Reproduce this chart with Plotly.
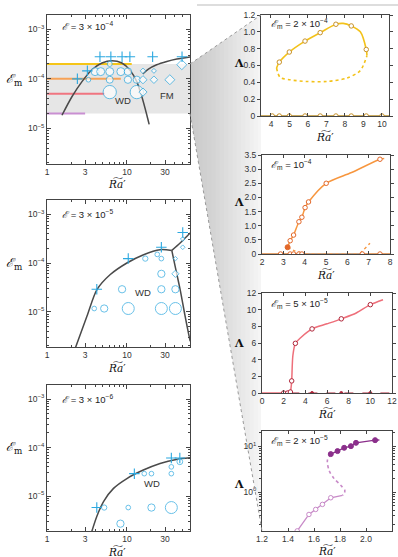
import numpy as np
import plotly.graph_objects as go

W, H = 398, 557

# ================= DATA =================
# ---- Left column: regime diagrams, x = Ra', y = E_m ----
# Panel L1 (E = 3e-4)
l1_band = [2e-5, 2e-4]
l1_level_y = [2e-4, 1e-4, 5e-5, 2e-5]
l1_level_xend = [11.5, 8.4, 5.3, 3.0]
l1_wd_x = [1.54, 2.05, 2.74, 3.65, 4.87, 6.49, 8.66, 11.0, 13.3, 15.4, 17.8, 19.0]
l1_wd_y = [1.84e-5, 4.35e-5, 8.8e-5, 1.53e-4, 2.09e-4, 2.33e-4, 2.09e-4, 1.48e-4, 8.8e-5, 4.35e-5, 1.84e-5, 1.2e-5]
l1_fm_x = [15.8, 18.6, 23.6, 31.6, 42.2, 62.0]
l1_fm_y = [1.26e-4, 1.58e-4, 1.93e-4, 2.25e-4, 2.52e-4, 2.78e-4]
l1_cross_x = [2.4, 3.2, 4.6, 6.3, 8.7, 10.9, 21.0, 49.0]
l1_cross_y = [1.0e-4, 1.45e-4, 2.8e-4, 2.8e-4, 2.8e-4, 2.8e-4, 2.8e-4, 2.8e-4]
l1_circ_x = [4.0, 4.7, 6.1, 8.4, 10.3, 6.1, 3.3, 6.1, 10.3, 13.3, 6.1, 13.3]
l1_circ_y = [1.4e-4, 1.4e-4, 1.4e-4, 1.4e-4, 1.4e-4, 2.0e-4, 9.6e-5, 9.6e-5, 9.6e-5, 9.6e-5, 5.4e-5, 5.4e-5]
l1_circ_s = [8, 8, 8, 8, 7.5, 5, 4.7, 7, 7.3, 7.3, 13.3, 13.3]
l1_dia_x = [15.9, 15.9, 15.9, 21.8, 21.8, 34.5, 48.7]
l1_dia_y = [1.45e-4, 9.6e-5, 5.4e-5, 1.45e-4, 9.6e-5, 9.6e-5, 1.93e-4]
l1_dia_s = [4.3, 6.3, 6.3, 3.8, 5.8, 7.7, 7.7]

# Panel L2 (E = 3e-5)
l2_wd_x = [2.2, 3.16, 4.22, 6.2, 10.0, 16.2, 26.0, 36.5]
l2_wd_y = [1.6e-6, 8.1e-6, 2.85e-5, 5.8e-5, 1.0e-4, 1.48e-4, 1.87e-4, 1.81e-4]
l2_up_x = [36.5, 46.4, 58.9, 64.0]
l2_up_y = [1.81e-4, 2.56e-4, 3.8e-4, 4.3e-4]
l2_dn_x = [36.5, 40.2, 46.4, 53.6, 58.9, 62.0]
l2_dn_y = [1.81e-4, 8.5e-5, 2.85e-5, 8.1e-6, 3.7e-6, 2.5e-6]
l2_cross_x = [4.2, 10.4, 27.0, 50.0]
l2_cross_y = [2.9e-5, 1.23e-4, 2.1e-4, 4.2e-4]
l2_circ_x = [3.9, 5.2, 10.4, 27.0, 40.5, 8.7, 27.0, 40.5, 27.0, 17.0, 24.0, 27.0]
l2_circ_y = [1.17e-5, 1.17e-5, 1.17e-5, 1.17e-5, 1.17e-5, 2.9e-5, 2.9e-5, 2.9e-5, 6.0e-5, 1.23e-4, 1.5e-4, 1.23e-4]
l2_circ_s = [4.7, 7.3, 12, 12, 12, 7.3, 7.3, 7.3, 7.3, 5.3, 4.7, 4.7]
l2_dia_x = [40.5, 40.5, 50.0, 50.0]
l2_dia_y = [1.23e-4, 6.0e-5, 2.1e-4, 3.1e-4]
l2_dia_s = [3.4, 5.6, 3.6, 3.6]

# Panel L3 (E = 3e-6)
l3_wd_x = [3.5, 3.65, 4.2, 5.1, 6.8, 10.0, 15.8, 26.0, 41.5, 62.0]
l3_wd_y = [1.5e-6, 1.9e-6, 3.8e-6, 7.7e-6, 1.44e-5, 2.3e-5, 3.4e-5, 4.7e-5, 5.7e-5, 6.15e-5]
l3_cross_x = [4.2, 12.4, 36.0, 46.0]
l3_cross_y = [5.8e-6, 2.9e-5, 6.1e-5, 6.1e-5]
l3_circ_x = [5.2, 10.4, 20.3, 36.0, 8.3, 16.5, 20.3, 36.0, 36.0, 46.0]
l3_circ_y = [5.8e-6, 5.8e-6, 5.8e-6, 5.8e-6, 2.7e-6, 2.9e-5, 2.9e-5, 2.9e-5, 4.0e-5, 5.1e-5]
l3_circ_s = [5.3, 4.7, 7.3, 12, 7.3, 4.7, 4.7, 4.7, 4.7, 5.8]

# ---- Right column: Lambda vs Ra' ----
# R1 (E_m = 2e-4)
r1_curve_x = [4.30, 4.45, 4.99, 5.84, 6.66, 7.51, 7.9, 8.34, 8.83, 9.15, 9.19]
r1_curve_y = [0.57, 0.64, 0.76, 0.89, 0.99, 1.09, 1.10, 1.07, 1.00, 0.79, 0.72]
r1_unst_x = [4.30, 4.49, 5.03, 5.93, 7.0, 8.1, 8.83, 9.19]
r1_unst_y = [0.57, 0.46, 0.43, 0.41, 0.41, 0.45, 0.54, 0.72]
r1_pts_x = [4.45, 4.99, 5.84, 6.66, 7.51, 8.34, 9.15]
r1_pts_y = [0.64, 0.76, 0.89, 0.99, 1.09, 1.07, 0.79]
r1_zero_x = [4.07, 4.45, 4.99, 5.84, 6.66, 7.51, 8.34, 9.15, 10.0]

# R2 (E_m = 1e-4)
r2_curve_x = [3.2, 3.32, 3.48, 3.73, 3.87, 4.02, 4.18, 5.01, 6.2, 7.53, 7.73]
r2_curve_y = [0.24, 0.47, 0.67, 1.14, 1.30, 1.64, 1.84, 2.50, 2.88, 3.35, 3.38]
r2_pts_x = [3.32, 3.48, 3.73, 3.87, 4.02, 4.18, 5.01, 7.53]
r2_pts_y = [0.47, 0.67, 1.14, 1.30, 1.64, 1.84, 2.50, 3.35]
r2_fill_x = [3.2]
r2_fill_y = [0.24]
r2_unst1_x = [3.2, 3.5, 3.9]
r2_unst1_y = [0.24, 0.12, 0.03]
r2_unst2_x = [6.6, 7.06]
r2_unst2_y = [0.02, 0.38]
r2_zero_x = [2.87, 3.32, 3.48, 3.73, 3.87, 6.7, 7.53]

# R3 (E_m = 5e-5)
r3_curve_x = [2.62, 2.68, 2.74, 2.85, 3.08, 3.54, 4.62, 6.0, 7.32, 8.7, 10.0, 11.17]
r3_curve_y = [0.12, 0.6, 1.45, 4.5, 5.96, 6.6, 7.69, 8.3, 8.9, 9.6, 10.6, 11.2]
r3_pts_x = [2.0, 2.37, 2.62, 2.74, 3.08, 4.62, 7.32, 10.0]
r3_pts_y = [0.0, 0.0, 0.12, 1.45, 5.96, 7.69, 8.9, 10.6]
r3_zero_dots_x = [2.62, 4.62, 7.32, 10.0]

# R4 (E_m = 2e-5)
r4_fill_x = [1.729, 1.781, 1.832, 1.884, 1.923, 2.07]
r4_fill_y = [6.7, 7.8, 9.2, 10.0, 11.8, 13.5]
r4_upper_x = [1.729, 1.781, 1.832, 1.884, 1.923, 2.07, 2.103]
r4_upper_y = [6.7, 7.8, 9.2, 10.0, 11.8, 13.5, 13.6]
r4_unst_x = [1.729, 1.703, 1.716, 1.755, 1.806, 1.837, 1.832, 1.819]
r4_unst_y = [6.7, 4.9, 2.95, 1.95, 1.40, 1.09, 0.92, 0.845]
r4_open_x = [1.471, 1.561, 1.613, 1.665, 1.729]
r4_open_y = [0.142, 0.324, 0.417, 0.537, 0.75]
r4_lower_x = [1.44, 1.471, 1.561, 1.613, 1.665, 1.729, 1.819]
r4_lower_y = [0.12, 0.142, 0.324, 0.417, 0.537, 0.75, 0.845]

# ================= STYLE =================
CYAN = "#2BA8E0"
CURVE = "#4a4a4a"
BAND = "#e6e6e6"
LEVEL_COLORS = ["#F5C518", "#F7A256", "#F07580", "#C98FD2"]
YEL, YEL_D = "#F3C21A", "#C8922A"
ORG, ORG_D = "#F7963E", "#E2682A"
RED, RED_D = "#EE6F7A", "#B0263A"
PUR, PUR_L = "#8B2F8B", "#C88AC8"
AX = "#444444"
TICKFONT = dict(family="Liberation Sans, Arial, sans-serif", size=8.5, color="#333")

fig = go.Figure()


def px(x):
    return x / W


def py(y):
    return 1 - y / H


def add(tr, k):
    tr.update(xaxis="x" if k == 1 else f"x{k}", yaxis="y" if k == 1 else f"y{k}",
              showlegend=False, hoverinfo="skip")
    fig.add_trace(tr)


def line(k, x, y, color, width=1.5, dash=None, shape="spline"):
    add(go.Scatter(x=x, y=y, mode="lines",
                   line=dict(color=color, width=width, dash=dash, shape=shape,
                             smoothing=0.8)), k)


def markers(k, x, y, symbol, size, color, fill=None, lw=1.0):
    add(go.Scatter(x=x, y=y, mode="markers",
                   marker=dict(symbol=symbol, size=size,
                               color=fill if fill else "rgba(0,0,0,0)",
                               line=dict(color=color, width=lw))), k)


# ---------- Left panels ----------
# L1
add(go.Scatter(x=[0.5, 100, 100, 0.5, 0.5], y=[l1_band[0], l1_band[0], l1_band[1], l1_band[1], l1_band[0]],
               mode="lines", fill="toself", fillcolor=BAND, line=dict(width=0)), 1)
for yv, xe, c in zip(l1_level_y, l1_level_xend, LEVEL_COLORS):
    line(1, [0.9, xe], [yv, yv], c, width=2, shape="linear")
line(1, l1_wd_x, l1_wd_y, CURVE)
line(1, l1_fm_x, l1_fm_y, CURVE)
markers(1, l1_circ_x, l1_circ_y, "circle", l1_circ_s, CYAN, fill="white")
markers(1, l1_dia_x, l1_dia_y, "diamond", l1_dia_s, CYAN, fill="white")
markers(1, l1_cross_x, l1_cross_y, "cross-thin", 7.5, CYAN, lw=1.1)

# L2
line(2, l2_wd_x, l2_wd_y, CURVE)
line(2, l2_up_x, l2_up_y, CURVE)
line(2, l2_dn_x, l2_dn_y, CURVE)
markers(2, l2_circ_x, l2_circ_y, "circle", l2_circ_s, CYAN, fill="white")
markers(2, l2_dia_x, l2_dia_y, "diamond", l2_dia_s, CYAN, fill="white")
markers(2, l2_cross_x, l2_cross_y, "cross-thin", 7.5, CYAN, lw=1.1)

# L3
line(3, l3_wd_x, l3_wd_y, CURVE)
markers(3, l3_circ_x, l3_circ_y, "circle", l3_circ_s, CYAN, fill="white")
markers(3, l3_cross_x, l3_cross_y, "cross-thin", 7.5, CYAN, lw=1.1)

# ---------- Right panels ----------
# R1
line(4, [3.4, 10.5], [0, 0], "#B8902E", width=1.5, shape="linear")
line(4, r1_unst_x, r1_unst_y, YEL, width=1.6, dash="dot")
line(4, r1_curve_x, r1_curve_y, YEL, width=1.6)
markers(4, r1_pts_x, r1_pts_y, "circle", 4.5, YEL_D, fill="white")
markers(4, r1_zero_x, [0] * len(r1_zero_x), "circle", 4.5, YEL_D, fill="white")

# R2
line(5, [2, 8], [0, 0], "#D9823B", width=1.5, shape="linear")
line(5, [3.9, 6.6], [0, 0], "#aaaaaa", width=1.2, dash="dot", shape="linear")
line(5, r2_unst1_x, r2_unst1_y, ORG, width=1.4, dash="dot")
line(5, r2_unst2_x, r2_unst2_y, ORG, width=1.4, dash="dot", shape="linear")
line(5, r2_curve_x, r2_curve_y, ORG, width=1.5)
markers(5, r2_pts_x, r2_pts_y, "circle", 4.5, ORG_D, fill="white")
markers(5, r2_zero_x, [0] * len(r2_zero_x), "circle", 4.5, ORG_D, fill="white")
markers(5, r2_fill_x, r2_fill_y, "circle", 5, ORG_D, fill=ORG_D)

# R3
line(6, [0, 2.62], [0, 0], RED, width=1.5, shape="linear")
line(6, [2.62, 12], [0, 0], RED_D, width=1.2, dash="dash", shape="linear")
line(6, r3_curve_x, r3_curve_y, RED, width=1.5)
markers(6, r3_zero_dots_x, [0] * len(r3_zero_dots_x), "circle", 3, RED_D, fill=RED_D)
markers(6, r3_pts_x, r3_pts_y, "circle", 4.5, RED_D, fill="white")

# R4
line(7, r4_unst_x, r4_unst_y, PUR_L, width=1.6, dash="dot")
line(7, r4_lower_x, r4_lower_y, PUR_L, width=1.3, shape="linear")
line(7, r4_upper_x, r4_upper_y, PUR, width=1.3, shape="linear")
markers(7, r4_open_x, r4_open_y, "circle", 4.5, PUR_L, fill="white")
markers(7, r4_fill_x, r4_fill_y, "circle", 5, PUR, fill=PUR)

# ================= AXES =================
layout = dict(width=W, height=H, margin=dict(l=0, r=0, t=0, b=0, autoexpand=False),
              autosize=False, paper_bgcolor="white", plot_bgcolor="rgba(0,0,0,0)")

left_boxes = {1: (47, 190, 15, 164), 2: (47, 190, 200, 347), 3: (47, 190, 385, 531)}
right_boxes = {4: (261, 389, 15, 116), 5: (262, 390, 155, 254),
               6: (262, 392, 293, 393), 7: (262, 392, 431, 531)}

xminor = [2, 3, 4, 5, 6, 7, 8, 9, 20, 30, 40, 50, 60]
yminor = [m * 10.0 ** e for e in (-6, -5, -4, -3) for m in range(2, 10)]


def ax_name(prefix, k):
    return prefix + "axis" + ("" if k == 1 else str(k))


for k, (x0, x1, y0, y1) in left_boxes.items():
    layout[ax_name("x", k)] = dict(
        domain=[px(x0), px(x1)], anchor="y" if k == 1 else f"y{k}", type="log",
        range=[0, 1.79], tickvals=[1, 3, 10, 30], ticktext=["1", "3", "10", "30"],
        ticks="inside", ticklen=4, tickcolor=AX, showline=True, linecolor=AX, linewidth=1,
        mirror="ticks", showgrid=False, zeroline=False, tickfont=TICKFONT, automargin=False,
        minor=dict(tickvals=xminor, ticks="inside", ticklen=2, tickcolor=AX))
    layout[ax_name("y", k)] = dict(
        domain=[py(y1), py(y0)], anchor="x" if k == 1 else f"x{k}", type="log",
        range=[-5.72, -2.71], tickvals=[1e-5, 1e-4, 1e-3],
        ticktext=["10<sup>−5</sup>", "10<sup>−4</sup>", "10<sup>−3</sup>"],
        ticks="inside", ticklen=4, tickcolor=AX, showline=True, linecolor=AX, linewidth=1,
        mirror="ticks", showgrid=False, zeroline=False, tickfont=TICKFONT, automargin=False,
        minor=dict(tickvals=yminor, ticks="inside", ticklen=2, tickcolor=AX))

right_specs = {
    4: dict(xr=[3.46, 10.38], xt=[4, 5, 6, 7, 8, 9, 10], xtt=None,
            yr=[0, 1.2], yt=[0, 0.2, 0.4, 0.6, 0.8, 1.0, 1.2],
            ytt=["0", "0.2", "0.4", "0.6", "0.8", "1.0", "1.2"], ylog=False),
    5: dict(xr=[2, 8], xt=[2, 3, 4, 5, 6, 7, 8], xtt=None,
            yr=[0, 3.5], yt=[0, 0.5, 1, 1.5, 2, 2.5, 3, 3.5],
            ytt=["0", "0.5", "1.0", "1.5", "2.0", "2.5", "3.0", "3.5"], ylog=False),
    6: dict(xr=[0, 12], xt=[0, 2, 4, 6, 8, 10, 12], xtt=None,
            yr=[0, 12], yt=[0, 2, 4, 6, 8, 10, 12], ytt=None, ylog=False),
    7: dict(xr=[1.2, 2.2], xt=[1.2, 1.4, 1.6, 1.8, 2.0, 2.2],
            xtt=["1.2", "1.4", "1.6", "1.8", "2.0", "2.2"],
            yr=[-0.85, 1.33], yt=[1, 10], ytt=["10<sup>0</sup>", "10<sup>1</sup>"], ylog=True),
}

for k, (x0, x1, y0, y1) in right_boxes.items():
    s = right_specs[k]
    xa = dict(domain=[px(x0), px(x1)], anchor=f"y{k}", range=s["xr"], tickvals=s["xt"],
              ticks="inside", ticklen=3, tickcolor=AX, showline=True, linecolor=AX,
              linewidth=1, mirror="ticks", showgrid=False, zeroline=False, tickfont=TICKFONT,
              automargin=False)
    if s["xtt"]:
        xa["ticktext"] = s["xtt"]
    ya = dict(domain=[py(y1), py(y0)], anchor=f"x{k}", range=s["yr"], tickvals=s["yt"],
              ticks="outside", ticklen=3, tickcolor=AX, showline=True, linecolor=AX,
              linewidth=1, mirror="ticks", showgrid=False, zeroline=False, tickfont=TICKFONT,
              automargin=False)
    if s["ytt"]:
        ya["ticktext"] = s["ytt"]
    if s["ylog"]:
        ya["type"] = "log"
        ya["minor"] = dict(tickvals=[m * 10.0 ** e for e in (-1, 0, 1) for m in range(2, 10)],
                           ticks="outside", ticklen=2, tickcolor=AX)
    layout[ax_name("x", k)] = xa
    layout[ax_name("y", k)] = ya

fig.update_layout(**layout)

# ================= DECORATION (wedge, lines) =================
shapes = []
ux0, uy0, ux1, uy1 = 190, 64, 261, 15
lx0, ly0, lx1, ly1 = 190, 113.5, 262, 531


def yu(x):
    return uy0 + (uy1 - uy0) * (x - ux0) / (ux1 - ux0)


def yl(x):
    return ly0 + (ly1 - ly0) * (x - lx0) / (lx1 - lx0)


def wedge_path(xa_, xb_):
    return (f"M {px(xa_)},{py(yu(xa_))} L {px(xb_)},{py(yu(xb_))} "
            f"L {px(xb_)},{py(yl(xb_))} L {px(xa_)},{py(yl(xa_))} Z")


# base wash over whole wedge, then stacked translucent layers (denser to the left)
shapes.append(dict(type="path", xref="paper", yref="paper", path=wedge_path(190, 261),
                   fillcolor="rgba(140,140,140,0.09)", line=dict(width=0), layer="below"))
N = 16
for i in range(N):
    xb_ = 190 + (258 - 190) * (i + 1) / N
    shapes.append(dict(type="path", xref="paper", yref="paper", path=wedge_path(190, xb_),
                       fillcolor="rgba(140,140,140,0.022)", line=dict(width=0),
                       layer="below"))
shapes.append(dict(type="line", xref="paper", yref="paper", x0=px(ux0), y0=py(uy0),
                   x1=px(ux1), y1=py(uy1), line=dict(color="#999", width=1, dash="dot")))
shapes.append(dict(type="line", xref="paper", yref="paper", x0=px(lx0), y0=py(ly0),
                   x1=px(lx1), y1=py(ly1), line=dict(color="#999", width=1, dash="dot")))
shapes.append(dict(type="line", xref="paper", yref="paper", x0=px(197), y0=py(5),
                   x1=px(398), y1=py(5), line=dict(color="#bbbbbb", width=1)))
fig.update_layout(shapes=shapes)

# ================= TEXT =================
ann = []
SERIF = "DejaVu Serif, Liberation Serif, serif"
SANS = "Liberation Sans, Arial, sans-serif"
RA = "<i>R\u0360a</i>\u2032"


def txt(x, y, t, size=9, family=SANS, xanchor="left", color="#222"):
    ann.append(dict(x=px(x), y=py(y), xref="paper", yref="paper", text=t, showarrow=False,
                    xanchor=xanchor, yanchor="middle", font=dict(size=size, family=family,
                                                                   color=color)))


# panel labels
txt(60, 26, "<i>ℰ</i> = 3 × 10<sup>−4</sup>", 9.5)
txt(60, 214, "<i>ℰ</i> = 3 × 10<sup>−5</sup>", 9.5)
txt(60, 399, "<i>ℰ</i> = 3 × 10<sup>−6</sup>", 9.5)
txt(269, 24, "<i>ℰ</i><sub>m</sub> = 2 × 10<sup>−4</sup>", 9.5)
txt(269, 164, "<i>ℰ</i><sub>m</sub> = 10<sup>−4</sup>", 9.5)
txt(269, 303, "<i>ℰ</i><sub>m</sub> = 5 × 10<sup>−5</sup>", 9.5)
txt(269, 440, "<i>ℰ</i><sub>m</sub> = 2 × 10<sup>−5</sup>", 9.5)

# axis titles
for yy in (80, 263, 447):
    txt(14, yy, "<i>ℰ</i><sub>m</sub>", 12.5, SERIF, "center", "#111")
for yy in (183, 367, 551):
    txt(117, yy, RA, 10.5, SERIF, "center", "#111")
for yy in (63, 203, 343, 484):
    txt(239, yy, "<b>Λ</b>", 11, SERIF, "center", "#111")
for (x0, x1, y0, y1) in right_boxes.values():
    txt((x0 + x1) / 2, min(y1 + 20, 550), RA, 10.5, SERIF, "center", "#111")

# regime labels (data coords)
ann.append(dict(x=np.log10(8.9), y=np.log10(3.7e-5), xref="x", yref="y", text="WD",
                showarrow=False, font=dict(size=9.5, family=SANS, color="#333")))
ann.append(dict(x=np.log10(31.6), y=np.log10(4.7e-5), xref="x", yref="y", text="FM",
                showarrow=False, font=dict(size=9.5, family=SANS, color="#333")))
ann.append(dict(x=np.log10(16.0), y=np.log10(2.5e-5), xref="x2", yref="y2", text="WD",
                showarrow=False, font=dict(size=9.5, family=SANS, color="#333")))
ann.append(dict(x=np.log10(20.5), y=np.log10(1.8e-5), xref="x3", yref="y3", text="WD",
                showarrow=False, font=dict(size=9.5, family=SANS, color="#333")))
fig.update_layout(annotations=ann)

fig.write_html("out.html", config={"displayModeBar": False, "staticPlot": True},
               post_script="document.body.style.margin='0px';")
